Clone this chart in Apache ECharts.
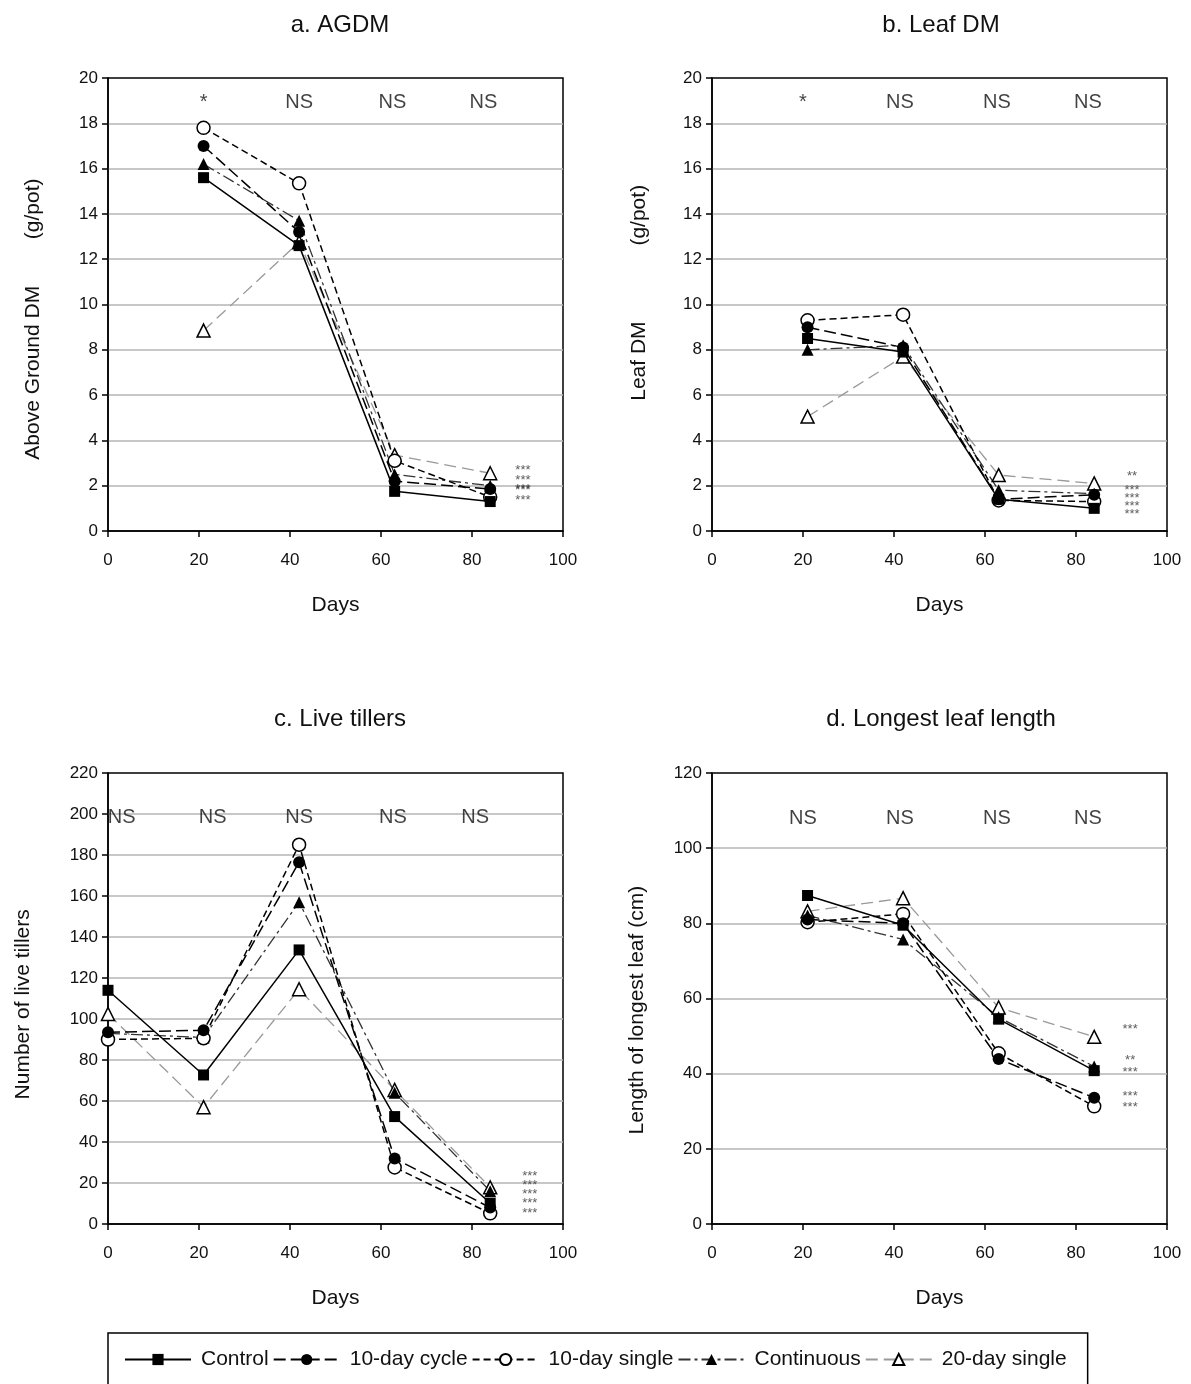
<!DOCTYPE html>
<html>
<head>
<meta charset="utf-8">
<script src="https://cdn.jsdelivr.net/npm/echarts@6/dist/echarts.min.js"></script>
<style>
  html, body { margin: 0; padding: 0; background: #fff; }
  #main { width: 1191px; height: 1384px; }
</style>
</head>
<body>
<div id="main"></div>
<script>
// sampling days
const days = [21, 42, 63, 84];
const tillerDays = [0, 21, 42, 63, 84];
const treatments = ['Control', '10-day cycle', '10-day single', 'Continuous', '20-day single'];

// a. above ground DM (g/pot)
const agdmControl = [15.6, 12.6, 1.75, 1.3];
const agdmCycle10 = [17.0, 13.2, 2.2, 1.85];
const agdmSingle10 = [17.8, 15.35, 3.1, 1.5];
const agdmContinuous = [16.2, 13.7, 2.5, 2.0];
const agdmSingle20 = [8.85, 12.75, 3.35, 2.55];

// b. leaf DM (g/pot)
const leafControl = [8.5, 7.9, 1.4, 1.0];
const leafCycle10 = [9.0, 8.1, 1.4, 1.6];
const leafSingle10 = [9.3, 9.55, 1.35, 1.3];
const leafContinuous = [8.0, 8.2, 1.8, 1.65];
const leafSingle20 = [5.05, 7.7, 2.47, 2.1];

// c. live tillers
const tilControl = [114, 72.7, 133.7, 52.4, 10.1];
const tilCycle10 = [93.5, 94.5, 176.5, 32, 8];
const tilSingle10 = [90, 90.6, 185, 27.6, 5.2];
const tilContinuous = [93, 91, 157, 64, 16];
const tilSingle20 = [102.5, 57, 114.5, 65.4, 17.9];

// d. longest leaf length (cm)
const lenControl = [87.4, 79.5, 54.5, 40.8];
const lenCycle10 = [81, 80, 43.9, 33.6];
const lenSingle10 = [80.3, 82.5, 45.4, 31.3];
const lenContinuous = [82.1, 75.7, 55, 41.9];
const lenSingle20 = [83.2, 86.7, 57.6, 49.8];

// significance labels above each sampling date
const sigTopA = ['*', 'NS', 'NS', 'NS'];
const sigTopAX = [21, 42, 62.5, 82.5];
const sigTopB = ['*', 'NS', 'NS', 'NS'];
const sigTopBX = [20, 41.3, 62.6, 82.6];
const sigTopC = ['NS', 'NS', 'NS', 'NS', 'NS'];
const sigTopCX = [3, 23, 42, 62.6, 80.7];
const sigTopD = ['NS', 'NS', 'NS', 'NS'];
const sigTopDX = [20, 41.3, 62.6, 82.6];

// significance labels at the right end
const sigEndA = ['***', '***', '***', '***', '***'];
const sigEndAY = [2.66, 2.22, 1.85, 1.78, 1.34];
const sigEndB = ['**', '***', '***', '***', '***'];
const sigEndBY = [2.43, 1.81, 1.44, 1.07, 0.71];
const sigEndC = ['***', '***', '***', '***', '***'];
const sigEndCY = [23.4, 19.0, 14.5, 9.8, 5.2];
const sigEndD = ['***', '**', '***', '***', '***'];
const sigEndDY = [51.8, 43.6, 40.3, 33.9, 31.1];

const font = 'Liberation Sans, Arial, sans-serif';

// line / marker style per treatment
const styles = {
  'Control':       { line: { color: '#000', width: 1.5, type: 'solid' }, symbol: 'rect', size: 11, item: { color: '#000' } },
  '10-day cycle':  { line: { color: '#000', width: 1.5, type: [12, 5] }, symbol: 'circle', size: 12, item: { color: '#000' } },
  '10-day single': { line: { color: '#000', width: 1.5, type: [7, 4] }, symbol: 'circle', size: 13, item: { color: '#fff', borderColor: '#000', borderWidth: 1.5 } },
  'Continuous':    { line: { color: '#333', width: 1.3, type: [12, 4, 3, 4] }, symbol: 'triangle', size: 12, item: { color: '#000' } },
  '20-day single': { line: { color: '#999', width: 1.3, type: [12, 6] }, symbol: 'triangle', size: 13, item: { color: '#fff', borderColor: '#000', borderWidth: 1.5 } }
};

function lineSeries(name, g, xs, ys) {
  const s = styles[name];
  return {
    name: name, type: 'line', xAxisIndex: g, yAxisIndex: g,
    data: xs.map((x, i) => [x, ys[i]]),
    symbol: s.symbol, symbolSize: s.size, showAllSymbol: true,
    lineStyle: s.line, itemStyle: s.item,
    animation: false
  };
}

function textSeries(g, xs, ys, texts, size, color) {
  return {
    type: 'scatter', xAxisIndex: g, yAxisIndex: g, symbolSize: 0, silent: true,
    data: texts.map((t, i) => ({ name: t, value: [xs[i], ys[i]] })),
    label: { show: true, position: 'inside', formatter: '{b}', fontFamily: font, fontSize: size, color: color },
    animation: false, z: 5
  };
}

const grids = [
  { left: 108, top: 78, width: 455, height: 453 },
  { left: 712, top: 78, width: 455, height: 453 },
  { left: 108, top: 773, width: 455, height: 451 },
  { left: 712, top: 773, width: 455, height: 451 }
].map(g => Object.assign({ show: true, borderColor: '#000', borderWidth: 1.5, backgroundColor: '#fff' }, g));

const xAxes = [0, 1, 2, 3].map(i => ({
  gridIndex: i, type: 'value', min: 0, max: 100, interval: 20,
  name: 'Days', nameLocation: 'middle', nameGap: 64,
  nameTextStyle: { fontFamily: font, fontSize: 21, color: '#111' },
  axisLine: { lineStyle: { color: '#000', width: 1.5 } },
  axisTick: { length: 6, lineStyle: { color: '#000', width: 1.5 } },
  axisLabel: { fontFamily: font, fontSize: 17, color: '#111', margin: 21 },
  splitLine: { show: false }
}));

const yDefs = [
  { max: 20, interval: 2, name: 'Above Ground DM        (g/pot)     ', gap: 64 },
  { max: 20, interval: 2, name: '    Leaf DM             (g/pot)', gap: 62 },
  { max: 220, interval: 20, name: 'Number of live tillers  ', gap: 74 },
  { max: 120, interval: 20, name: 'Length of longest leaf (cm)    ', gap: 64 }
];
const yAxes = yDefs.map((d, i) => ({
  gridIndex: i, type: 'value', min: 0, max: d.max, interval: d.interval,
  name: d.name, nameLocation: 'middle', nameGap: d.gap,
  nameTextStyle: { fontFamily: font, fontSize: 21, color: '#111' },
  axisLine: { lineStyle: { color: '#000', width: 1.5 } },
  axisTick: { length: 6, lineStyle: { color: '#000', width: 1.5 } },
  axisLabel: { fontFamily: font, fontSize: 17, color: '#111', margin: 10 },
  splitLine: { show: true, showMinLine: false, showMaxLine: false, lineStyle: { color: '#b4b4b4', width: 1.5 } }
}));

const titles = [
  { text: 'a. AGDM', left: 335, top: 8 },
  { text: 'b. Leaf DM', left: 936, top: 8 },
  { text: 'c. Live tillers', left: 335, top: 702 },
  { text: 'd. Longest leaf length', left: 936, top: 702 }
].map(t => Object.assign({ textAlign: 'center', textStyle: { fontFamily: font, fontSize: 24, fontWeight: 'normal', color: '#111' } }, t));

const series = [];
const panels = [
  [days, [agdmControl, agdmCycle10, agdmSingle10, agdmContinuous, agdmSingle20]],
  [days, [leafControl, leafCycle10, leafSingle10, leafContinuous, leafSingle20]],
  [tillerDays, [tilControl, tilCycle10, tilSingle10, tilContinuous, tilSingle20]],
  [days, [lenControl, lenCycle10, lenSingle10, lenContinuous, lenSingle20]]
];
panels.forEach((p, g) => {
  // lighter treatments first so the control line sits on top
  [4, 3, 2, 1, 0].forEach(k => series.push(lineSeries(treatments[k], g, p[0], p[1][k])));
});

series.push(textSeries(0, sigTopAX, sigTopAX.map(() => 18.9), sigTopA, 20, '#111'));
series.push(textSeries(1, sigTopBX, sigTopBX.map(() => 18.9), sigTopB, 20, '#111'));
series.push(textSeries(2, sigTopCX, sigTopCX.map(() => 198.5), sigTopC, 20, '#111'));
series.push(textSeries(3, sigTopDX, sigTopDX.map(() => 107.8), sigTopD, 20, '#111'));
series.push(textSeries(0, sigEndAY.map(() => 91.2), sigEndAY, sigEndA, 13, '#333'));
series.push(textSeries(1, sigEndBY.map(() => 92.3), sigEndBY, sigEndB, 13, '#333'));
series.push(textSeries(2, sigEndCY.map(() => 92.7), sigEndCY, sigEndC, 13, '#333'));
series.push(textSeries(3, sigEndDY.map(() => 91.9), sigEndDY, sigEndD, 13, '#333'));

const chart = echarts.init(document.getElementById('main'), null, { renderer: 'canvas' });
chart.setOption({
  backgroundColor: '#fff',
  animation: false,
  title: titles,
  grid: grids,
  xAxis: xAxes,
  yAxis: yAxes,
  legend: {
    data: treatments,
    left: 108, top: 1333,
    padding: [16, 21, 16, 16],
    borderColor: '#000', borderWidth: 1.5,
    itemWidth: 66, itemHeight: 14, itemGap: 4,
    textStyle: { fontFamily: font, fontSize: 21, color: '#111', padding: [0, 0, 0, 5] }
  },
  series: series
});
</script>
</body>
</html>
